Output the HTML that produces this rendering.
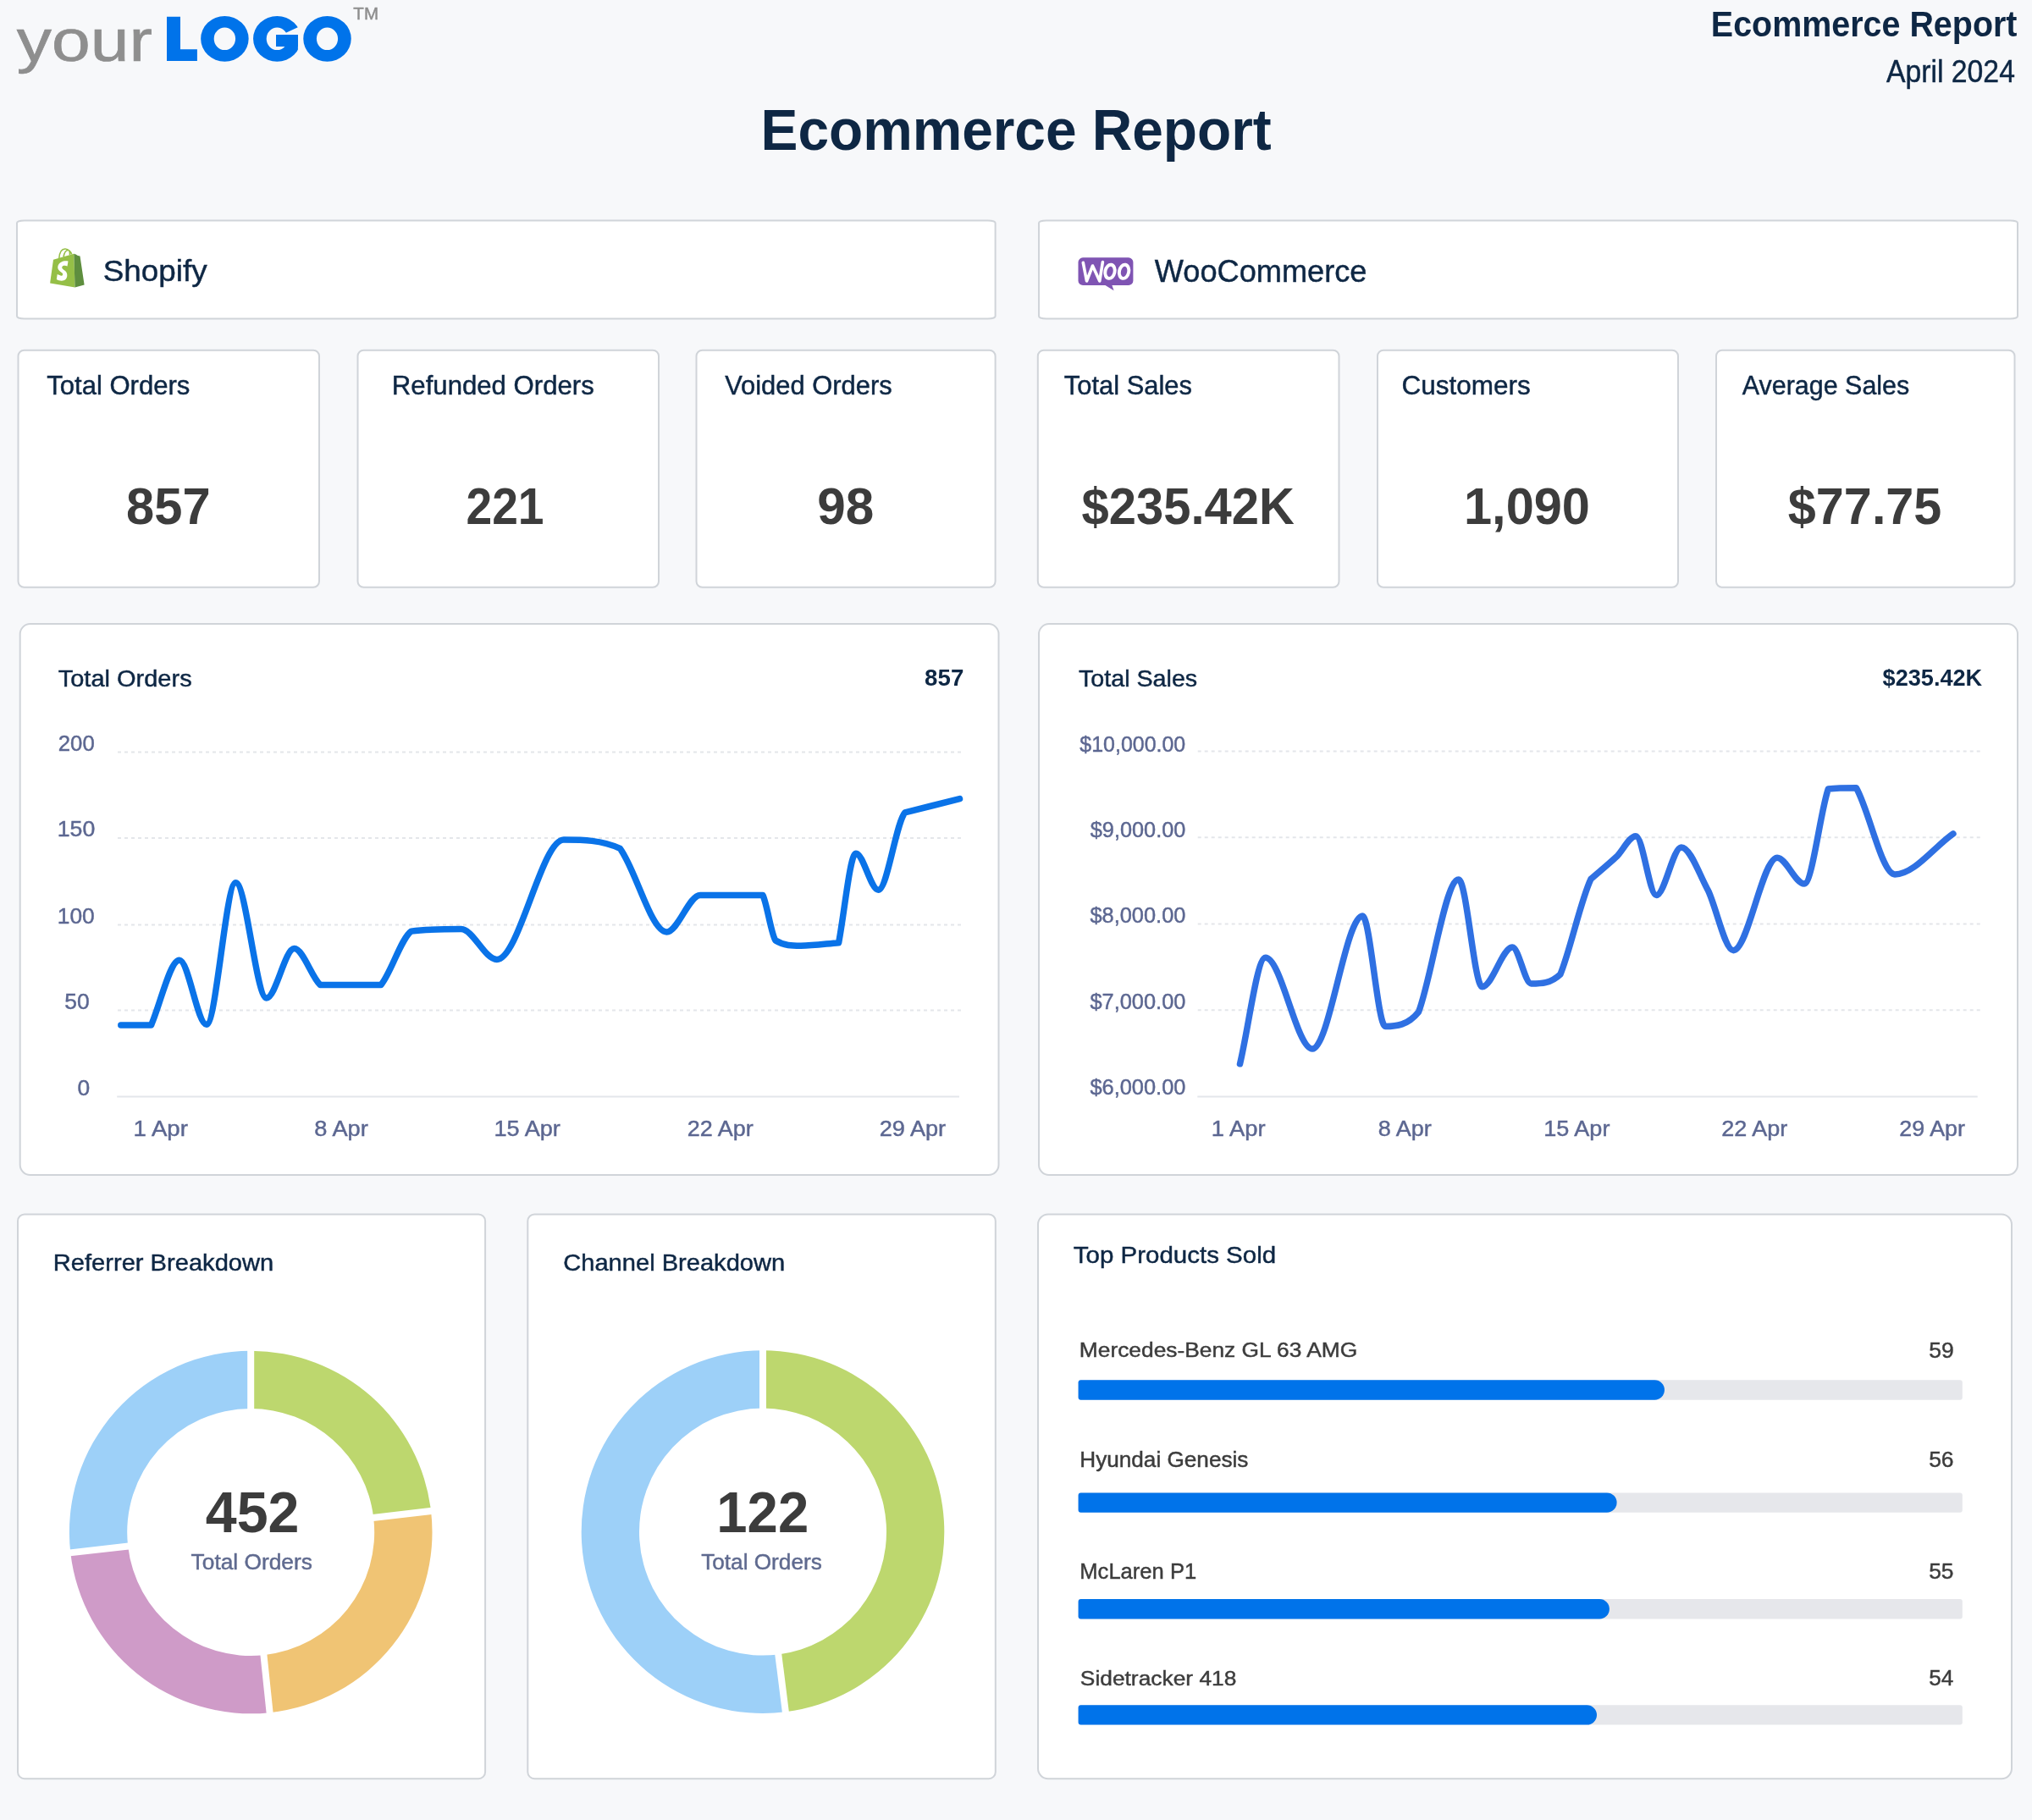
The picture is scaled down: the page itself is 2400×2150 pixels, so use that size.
<!DOCTYPE html>
<html><head><meta charset="utf-8"><title>Ecommerce Report</title>
<style>html,body{margin:0;padding:0;background:#f7f8fa;} svg{display:block;font-family:"Liberation Sans",sans-serif;will-change:transform;}</style>
</head><body>
<svg width="2400" height="2150" viewBox="0 0 2400 2150">
<rect x="0" y="0" width="2400" height="2150" fill="#f7f8fa"/>
<text transform="translate(19.79,71.70) scale(1.1762,1)" font-size="69.95" font-weight="normal" fill="#8e8e8e" stroke="#8e8e8e" stroke-width="0.7">your</text>
<path fill="#0073ea" d="M197,19.8 H213 V58.2 H232.9 V71.9 H197 Z"/>
<path fill="#0073ea" fill-rule="evenodd" d="M237.14999999999998,45.8 a28.25,26.9 0 1,0 56.5,0 a28.25,26.9 0 1,0 -56.5,0 Z M252.7,45.8 a12.7,13.3 0 1,0 25.4,0 a12.7,13.3 0 1,0 -25.4,0 Z"/>
<clipPath id="gclip"><path d="M290,10 H362 V27.5 L337.2,39 L333,41 H351.9 V80 H290 Z"/></clipPath>
<path fill="#0073ea" fill-rule="evenodd" clip-path="url(#gclip)" d="M299.05,45.8 a28.25,26.9 0 1,0 56.5,0 a28.25,26.9 0 1,0 -56.5,0 Z M314.7,45.8 a12.6,13.3 0 1,0 25.2,0 a12.6,13.3 0 1,0 -25.2,0 Z"/>
<rect x="326" y="41" width="25.9" height="14" fill="#0073ea"/>
<path fill="#0073ea" fill-rule="evenodd" d="M358.25,45.8 a28.25,26.9 0 1,0 56.5,0 a28.25,26.9 0 1,0 -56.5,0 Z M373.9,45.8 a12.6,13.3 0 1,0 25.2,0 a12.6,13.3 0 1,0 -25.2,0 Z"/>
<text transform="translate(417.34,23.00) scale(1.0097,1)" font-size="20.36" font-weight="normal" fill="#8e8e8e" stroke="#8e8e8e" stroke-width="0.45">TM</text>
<text transform="translate(2020.84,43.00) scale(0.9350,1)" font-size="42.18" font-weight="bold" fill="#0e2744">Ecommerce Report</text>
<text transform="translate(2227.92,97.00) scale(0.9285,1)" font-size="36.36" font-weight="normal" fill="#0e2744" stroke="#0e2744" stroke-width="0.45">April 2024</text>
<text transform="translate(898.56,176.50) scale(0.9522,1)" font-size="69.09" font-weight="bold" fill="#0e2744">Ecommerce Report</text>
<rect x="20.0" y="260.4" width="1155.6" height="116.1" rx="9" ry="3" fill="#fff" stroke="#d0d4d9" stroke-width="2"/>
<rect x="1227.0" y="260.4" width="1156.0" height="116.1" rx="9" ry="3" fill="#fff" stroke="#d0d4d9" stroke-width="2"/>
<text transform="translate(121.74,332.40) scale(1.0272,1)" font-size="35.86" font-weight="normal" fill="#0e2744" stroke="#0e2744" stroke-width="0.45">Shopify</text>
<text transform="translate(1363.82,332.80) scale(0.9784,1)" font-size="36.99" font-weight="normal" fill="#0e2744" stroke="#0e2744" stroke-width="0.45">WooCommerce</text>
<path fill="#95bf47" d="M63,306.8 L87.3,299.8 L88.5,339.6 L59.1,334.6 Z"/>
<path fill="#5e8e3e" d="M87.3,299.8 L89.5,300.5 L92,302 L94.5,302.5 L99.6,336.4 L88.5,339.6 Z"/>
<path fill="none" stroke="#95bf47" stroke-width="1.6" d="M69.8,305 C70.5,296 74,294 77,294 C81,294 84,298 84.8,300.5 M75,303.5 C76,298 78.5,295.5 80.5,295.5 C82,295.5 82.5,298 82.5,301"/>
<path fill="#fff" d="M80.5,308.5 C76,307.5 70,309 68.5,314 C67,319 72,321 73.5,322.5 C75,324 74,326.5 71.5,325.5 L67.7,324 L66.8,330 C70,332 75,332.5 77.5,330 C80,327.5 80,322.5 77,320 C74.5,318 72.5,317 73.5,315 C74.5,313 78,314 79.5,314.5 Z"/>
<rect x="1273.5" y="304.3" width="64.9" height="32.6" rx="5.5" fill="#7f54b3"/>
<path fill="#7f54b3" d="M1304.6,336.5 L1315.6,343.2 L1313.2,336.5 Z"/>
<path fill="none" stroke="#fff" stroke-width="3.6" stroke-linecap="round" stroke-linejoin="round" d="M1279.3,310.3 L1283.5,332 L1290.5,314 L1298.8,332 L1302.4,309.5"/>
<ellipse cx="1311" cy="320.8" rx="5.6" ry="8.2" transform="rotate(12 1311 320.8)" fill="none" stroke="#fff" stroke-width="3.9"/>
<ellipse cx="1327.6" cy="320.8" rx="5.6" ry="8.2" transform="rotate(12 1327.6 320.8)" fill="none" stroke="#fff" stroke-width="3.9"/>
<rect x="21.5" y="413.7" width="355.5" height="280.1" rx="7" ry="7" fill="#fff" stroke="#d0d4d9" stroke-width="2"/>
<rect x="422.5" y="413.7" width="355.5" height="280.1" rx="7" ry="7" fill="#fff" stroke="#d0d4d9" stroke-width="2"/>
<rect x="822.5" y="413.7" width="353.1" height="280.1" rx="7" ry="7" fill="#fff" stroke="#d0d4d9" stroke-width="2"/>
<rect x="1225.8" y="413.7" width="355.7" height="280.1" rx="7" ry="7" fill="#fff" stroke="#d0d4d9" stroke-width="2"/>
<rect x="1627.0" y="413.7" width="355.0" height="280.1" rx="7" ry="7" fill="#fff" stroke="#d0d4d9" stroke-width="2"/>
<rect x="2027.0" y="413.7" width="352.5" height="280.1" rx="7" ry="7" fill="#fff" stroke="#d0d4d9" stroke-width="2"/>
<text transform="translate(55.20,466.20) scale(1.0195,1)" font-size="30.48" font-weight="normal" fill="#0e2744" stroke="#0e2744" stroke-width="0.45">Total Orders</text>
<text transform="translate(462.83,466.20) scale(1.0225,1)" font-size="30.48" font-weight="normal" fill="#0e2744" stroke="#0e2744" stroke-width="0.45">Refunded Orders</text>
<text transform="translate(856.15,466.20) scale(1.0148,1)" font-size="30.48" font-weight="normal" fill="#0e2744" stroke="#0e2744" stroke-width="0.45">Voided Orders</text>
<text transform="translate(1256.80,466.20) scale(1.0144,1)" font-size="30.48" font-weight="normal" fill="#0e2744" stroke="#0e2744" stroke-width="0.45">Total Sales</text>
<text transform="translate(1655.42,466.20) scale(0.9947,1)" font-size="31.68" font-weight="normal" fill="#0e2744" stroke="#0e2744" stroke-width="0.45">Customers</text>
<text transform="translate(2057.82,466.20) scale(0.9993,1)" font-size="30.48" font-weight="normal" fill="#0e2744" stroke="#0e2744" stroke-width="0.45">Average Sales</text>
<text transform="translate(149.06,619.25) scale(0.9835,1)" font-size="60.72" font-weight="bold" fill="#3c3c3c">857</text>
<text transform="translate(550.47,619.25) scale(0.9092,1)" font-size="60.72" font-weight="bold" fill="#3c3c3c">221</text>
<text transform="translate(965.19,619.25) scale(0.9929,1)" font-size="60.72" font-weight="bold" fill="#3c3c3c">98</text>
<text transform="translate(1277.58,619.25) scale(0.9542,1)" font-size="60.72" font-weight="bold" fill="#3c3c3c">$235.42K</text>
<text transform="translate(1728.98,619.25) scale(0.9806,1)" font-size="60.72" font-weight="bold" fill="#3c3c3c">1,090</text>
<text transform="translate(2111.86,619.25) scale(0.9776,1)" font-size="60.72" font-weight="bold" fill="#3c3c3c">$77.75</text>
<rect x="23.7" y="737.1" width="1155.8" height="650.9" rx="12" ry="12" fill="#fff" stroke="#d0d4d9" stroke-width="2"/>
<rect x="1227.0" y="737.1" width="1156.0" height="650.9" rx="12" ry="12" fill="#fff" stroke="#d0d4d9" stroke-width="2"/>
<text transform="translate(68.75,810.80) scale(1.0618,1)" font-size="27.31" font-weight="normal" fill="#0e2744" stroke="#0e2744" stroke-width="0.45">Total Orders</text>
<text transform="translate(1092.10,810.20) scale(1.0008,1)" font-size="27.67" font-weight="bold" fill="#0e2744">857</text>
<text transform="translate(1273.95,810.60) scale(1.0611,1)" font-size="27.03" font-weight="normal" fill="#0e2744" stroke="#0e2744" stroke-width="0.45">Total Sales</text>
<text transform="translate(2223.56,810.00) scale(0.9757,1)" font-size="27.81" font-weight="bold" fill="#0e2744">$235.42K</text>
<line x1="139" y1="888.4" x2="1137" y2="888.4" stroke="#e4e6ea" stroke-width="2" stroke-dasharray="4,4"/>
<line x1="139" y1="990.1" x2="1137" y2="990.1" stroke="#e4e6ea" stroke-width="2" stroke-dasharray="4,4"/>
<line x1="139" y1="1092.4" x2="1137" y2="1092.4" stroke="#e4e6ea" stroke-width="2" stroke-dasharray="4,4"/>
<line x1="139" y1="1193.5" x2="1137" y2="1193.5" stroke="#e4e6ea" stroke-width="2" stroke-dasharray="4,4"/>
<line x1="138.2" y1="1295.5" x2="1133" y2="1295.5" stroke="#e3e6eb" stroke-width="2"/>
<text transform="translate(68.82,886.60) scale(1.0069,1)" font-size="25.52" font-weight="normal" fill="#5c6791" stroke="#5c6791" stroke-width="0.45">200</text>
<text transform="translate(67.70,988.30) scale(1.0458,1)" font-size="25.52" font-weight="normal" fill="#5c6791" stroke="#5c6791" stroke-width="0.45">150</text>
<text transform="translate(67.72,1090.60) scale(1.0332,1)" font-size="25.52" font-weight="normal" fill="#5c6791" stroke="#5c6791" stroke-width="0.45">100</text>
<text transform="translate(76.34,1191.70) scale(1.0361,1)" font-size="25.52" font-weight="normal" fill="#5c6791" stroke="#5c6791" stroke-width="0.45">50</text>
<text transform="translate(91.54,1293.60) scale(1.0340,1)" font-size="25.52" font-weight="normal" fill="#5c6791" stroke="#5c6791" stroke-width="0.45">0</text>
<text transform="translate(157.43,1341.70) scale(1.0727,1)" font-size="25.75" font-weight="normal" fill="#5c6791" stroke="#5c6791" stroke-width="0.45">1 Apr</text>
<text transform="translate(371.24,1341.70) scale(1.0574,1)" font-size="25.75" font-weight="normal" fill="#5c6791" stroke="#5c6791" stroke-width="0.45">8 Apr</text>
<text transform="translate(583.47,1341.70) scale(1.0529,1)" font-size="25.75" font-weight="normal" fill="#5c6791" stroke="#5c6791" stroke-width="0.45">15 Apr</text>
<text transform="translate(811.85,1341.70) scale(1.0463,1)" font-size="25.75" font-weight="normal" fill="#5c6791" stroke="#5c6791" stroke-width="0.45">22 Apr</text>
<text transform="translate(1038.64,1341.70) scale(1.0546,1)" font-size="25.75" font-weight="normal" fill="#5c6791" stroke="#5c6791" stroke-width="0.45">29 Apr</text>
<path d="M142.8,1210.9 C154.7,1210.9 166.7,1210.9 178.6,1210.9 C189.7,1185.3 200.8,1134.2 211.9,1134.2 C222.6,1134.2 233.2,1210.2 243.9,1210.2 C255.4,1210.2 266.9,1042.8 278.4,1042.8 C290.5,1042.8 302.7,1178.9 314.8,1178.9 C325.7,1178.9 336.6,1120.6 347.5,1120.6 C357.7,1120.6 368.0,1154.3 378.2,1163.6 C402.1,1163.6 426.0,1163.6 449.9,1163.6 C461.8,1149.5 473.8,1108.4 485.7,1100.1 C505.3,1097.6 525.0,1097.6 544.6,1097.6 C558.7,1097.6 572.7,1133.4 586.8,1133.4 C613.1,1133.4 639.5,992.1 665.8,992.1 C688.0,992.1 710.2,992.1 732.4,1002.4 C750.7,1027.0 769.1,1100.9 787.4,1100.9 C800.6,1100.9 813.8,1057.4 827.0,1057.4 C851.7,1057.4 876.3,1057.4 901.0,1057.6 C906.0,1068.0 911.0,1104.3 916.0,1111.0 C925.9,1117.2 935.9,1117.2 945.8,1117.2 C960.7,1117.2 975.7,1114.9 990.6,1113.7 C997.3,1078.5 1004.1,1008.2 1010.8,1008.2 C1019.7,1008.2 1028.5,1051.2 1037.4,1051.2 C1047.9,1051.2 1058.3,971.6 1068.8,959.9 C1090.4,954.5 1111.9,949.0 1133.5,943.6" fill="none" stroke="#0a73e8" stroke-width="7.5" stroke-linecap="round" stroke-linejoin="round"/>
<line x1="1414.7" y1="887.5" x2="2342.6" y2="887.5" stroke="#e4e6ea" stroke-width="2" stroke-dasharray="4,4"/>
<line x1="1414.7" y1="989.3" x2="2342.6" y2="989.3" stroke="#e4e6ea" stroke-width="2" stroke-dasharray="4,4"/>
<line x1="1414.7" y1="1091.4" x2="2342.6" y2="1091.4" stroke="#e4e6ea" stroke-width="2" stroke-dasharray="4,4"/>
<line x1="1414.7" y1="1193.3" x2="2342.6" y2="1193.3" stroke="#e4e6ea" stroke-width="2" stroke-dasharray="4,4"/>
<line x1="1414.3" y1="1295.5" x2="2335.7" y2="1295.5" stroke="#e3e6eb" stroke-width="2"/>
<text transform="translate(1275.35,888.20) scale(0.9677,1)" font-size="25.81" font-weight="normal" fill="#5c6791" stroke="#5c6791" stroke-width="0.45">$10,000.00</text>
<text transform="translate(1287.75,988.90) scale(0.9811,1)" font-size="25.81" font-weight="normal" fill="#5c6791" stroke="#5c6791" stroke-width="0.45">$9,000.00</text>
<text transform="translate(1287.45,1090.00) scale(0.9837,1)" font-size="25.81" font-weight="normal" fill="#5c6791" stroke="#5c6791" stroke-width="0.45">$8,000.00</text>
<text transform="translate(1287.45,1191.80) scale(0.9837,1)" font-size="25.81" font-weight="normal" fill="#5c6791" stroke="#5c6791" stroke-width="0.45">$7,000.00</text>
<text transform="translate(1287.45,1293.40) scale(0.9837,1)" font-size="25.81" font-weight="normal" fill="#5c6791" stroke="#5c6791" stroke-width="0.45">$6,000.00</text>
<text transform="translate(1430.65,1342.00) scale(1.0640,1)" font-size="25.75" font-weight="normal" fill="#5c6791" stroke="#5c6791" stroke-width="0.45">1 Apr</text>
<text transform="translate(1627.65,1342.00) scale(1.0506,1)" font-size="25.75" font-weight="normal" fill="#5c6791" stroke="#5c6791" stroke-width="0.45">8 Apr</text>
<text transform="translate(1823.17,1342.00) scale(1.0515,1)" font-size="25.75" font-weight="normal" fill="#5c6791" stroke="#5c6791" stroke-width="0.45">15 Apr</text>
<text transform="translate(2033.15,1342.00) scale(1.0491,1)" font-size="25.75" font-weight="normal" fill="#5c6791" stroke="#5c6791" stroke-width="0.45">22 Apr</text>
<text transform="translate(2243.36,1342.00) scale(1.0422,1)" font-size="25.75" font-weight="normal" fill="#5c6791" stroke="#5c6791" stroke-width="0.45">29 Apr</text>
<path d="M1464.5,1256.8 C1474.6,1215.0 1484.6,1131.3 1494.7,1131.3 C1513.2,1131.3 1531.6,1239.1 1550.1,1239.1 C1569.8,1239.1 1589.5,1082.1 1609.2,1082.1 C1618.2,1082.1 1627.2,1212.5 1636.2,1212.5 C1649.3,1212.5 1662.5,1211.3 1675.6,1195.3 C1691.3,1153.5 1707.1,1039.0 1722.8,1039.0 C1732.1,1039.0 1741.3,1165.7 1750.6,1165.7 C1762.5,1165.7 1774.4,1119.0 1786.3,1119.0 C1793.7,1119.0 1801.1,1162.0 1808.5,1162.0 C1820.0,1162.0 1831.4,1162.0 1842.9,1151.0 C1854.9,1121.7 1867.0,1063.6 1879.0,1038.4 C1889.1,1029.6 1899.2,1021.3 1909.3,1012.1 C1916.9,1004.4 1924.5,987.7 1932.1,987.7 C1940.2,987.7 1948.2,1057.5 1956.3,1057.5 C1966.1,1057.5 1976.0,1000.9 1985.8,1000.9 C1996.5,1000.9 2007.1,1033.4 2017.8,1052.6 C2027.6,1074.0 2037.5,1122.7 2047.3,1122.7 C2064.5,1122.7 2081.8,1013.2 2099.0,1013.2 C2109.7,1013.2 2120.3,1044.0 2131.0,1044.0 C2140.4,1044.0 2149.9,959.3 2159.3,932.0 C2170.4,930.8 2181.4,930.8 2192.5,930.8 C2207.7,957.5 2222.8,1032.9 2238.0,1032.9 C2261.0,1032.9 2283.9,1000.9 2306.9,984.9" fill="none" stroke="#2f70e2" stroke-width="7.5" stroke-linecap="round" stroke-linejoin="round"/>
<rect x="21.0" y="1434.4" width="552.1" height="666.8" rx="8" ry="8" fill="#fff" stroke="#d0d4d9" stroke-width="2"/>
<rect x="623.3" y="1434.4" width="552.5" height="666.8" rx="8" ry="8" fill="#fff" stroke="#d0d4d9" stroke-width="2"/>
<rect x="1226.0" y="1434.5" width="1150.0" height="666.7" rx="12" ry="12" fill="#fff" stroke="#d0d4d9" stroke-width="2"/>
<text transform="translate(62.80,1500.90) scale(1.0657,1)" font-size="27.31" font-weight="normal" fill="#0e2744" stroke="#0e2744" stroke-width="0.45">Referrer Breakdown</text>
<text transform="translate(665.25,1501.00) scale(1.0546,1)" font-size="27.59" font-weight="normal" fill="#0e2744" stroke="#0e2744" stroke-width="0.45">Channel Breakdown</text>
<text transform="translate(1267.84,1491.80) scale(1.0857,1)" font-size="27.17" font-weight="normal" fill="#0e2744" stroke="#0e2744" stroke-width="0.45">Top Products Sold</text>
<path fill="#bdd76e" d="M296.20,1595.70 A214.3,214.3 0 0,1 509.04,1785.00 L441.20,1792.97 A146,146 0 0,0 296.20,1664.00 Z"/>
<path fill="#f0c474" d="M509.04,1785.00 A214.3,214.3 0 0,1 318.60,2023.13 L311.46,1955.20 A146,146 0 0,0 441.20,1792.97 Z"/>
<path fill="#cf9bc8" d="M318.60,2023.13 A214.3,214.3 0 0,1 83.28,1834.26 L151.14,1826.53 A146,146 0 0,0 311.46,1955.20 Z"/>
<path fill="#9dd0f8" d="M83.28,1834.26 A214.3,214.3 0 0,1 296.20,1595.70 L296.20,1664.00 A146,146 0 0,0 151.14,1826.53 Z"/>
<line x1="296.20" y1="1667.00" x2="296.20" y2="1592.70" stroke="#fff" stroke-width="8"/>
<line x1="438.22" y1="1793.32" x2="512.02" y2="1784.65" stroke="#fff" stroke-width="8"/>
<line x1="311.15" y1="1952.22" x2="318.91" y2="2026.11" stroke="#fff" stroke-width="8"/>
<line x1="154.12" y1="1826.19" x2="80.30" y2="1834.60" stroke="#fff" stroke-width="8"/>
<path fill="#bdd76e" d="M901.00,1595.30 A214.3,214.3 0 0,1 927.86,2022.21 L919.30,1954.45 A146,146 0 0,0 901.00,1663.60 Z"/>
<path fill="#9dd0f8" d="M927.86,2022.21 A214.3,214.3 0 1,1 901.00,1595.30 L901.00,1663.60 A146,146 0 1,0 919.30,1954.45 Z"/>
<line x1="901.00" y1="1666.60" x2="901.00" y2="1592.30" stroke="#fff" stroke-width="8"/>
<line x1="918.92" y1="1951.47" x2="928.23" y2="2025.19" stroke="#fff" stroke-width="8"/>
<text transform="translate(242.81,1810.00) scale(0.9598,1)" font-size="69.09" font-weight="bold" fill="#3c3c3c">452</text>
<text transform="translate(225.61,1853.50) scale(1.0310,1)" font-size="25.52" font-weight="normal" fill="#5f6a8f" stroke="#5f6a8f" stroke-width="0.45">Total Orders</text>
<text transform="translate(846.32,1810.00) scale(0.9446,1)" font-size="69.09" font-weight="bold" fill="#3c3c3c">122</text>
<text transform="translate(828.21,1853.50) scale(1.0259,1)" font-size="25.52" font-weight="normal" fill="#5f6a8f" stroke="#5f6a8f" stroke-width="0.45">Total Orders</text>
<text transform="translate(1274.83,1602.90) scale(1.1044,1)" font-size="23.86" font-weight="normal" fill="#3c3c3c" stroke="#3c3c3c" stroke-width="0.45">Mercedes-Benz GL 63 AMG</text>
<text transform="translate(2278.14,1603.60) scale(0.9969,1)" font-size="26.62" font-weight="normal" fill="#3c3c3c" stroke="#3c3c3c" stroke-width="0.45">59</text>
<rect x="1273.6" y="1630.3" width="1044.2" height="23.4" rx="3" fill="#e6e7eb"/>
<path fill="#0073ea" d="M1276.6,1630.3 H1954.3 A11.7,11.7 0 0,1 1954.3,1653.7 H1276.6 A3,3 0 0,1 1273.6,1650.7 V1633.3 A3,3 0 0,1 1276.6,1630.3 Z"/>
<text transform="translate(1275.24,1733.20) scale(1.0311,1)" font-size="25.38" font-weight="normal" fill="#3c3c3c" stroke="#3c3c3c" stroke-width="0.45">Hyundai Genesis</text>
<text transform="translate(2278.14,1733.00) scale(1.0341,1)" font-size="25.60" font-weight="normal" fill="#3c3c3c" stroke="#3c3c3c" stroke-width="0.45">56</text>
<rect x="1273.6" y="1763.4" width="1044.2" height="23.4" rx="3" fill="#e6e7eb"/>
<path fill="#0073ea" d="M1276.6,1763.4 H1897.9 A11.7,11.7 0 0,1 1897.9,1786.8 H1276.6 A3,3 0 0,1 1273.6,1783.8 V1766.4 A3,3 0 0,1 1276.6,1763.4 Z"/>
<text transform="translate(1275.29,1865.10) scale(0.9939,1)" font-size="25.75" font-weight="normal" fill="#3c3c3c" stroke="#3c3c3c" stroke-width="0.45">McLaren P1</text>
<text transform="translate(2278.14,1865.40) scale(1.0200,1)" font-size="25.89" font-weight="normal" fill="#3c3c3c" stroke="#3c3c3c" stroke-width="0.45">55</text>
<rect x="1273.6" y="1889" width="1044.2" height="23.4" rx="3" fill="#e6e7eb"/>
<path fill="#0073ea" d="M1276.6,1889 H1889.2 A11.7,11.7 0 0,1 1889.2,1912.4 H1276.6 A3,3 0 0,1 1273.6,1909.4 V1892.0 A3,3 0 0,1 1276.6,1889 Z"/>
<text transform="translate(1275.81,1991.00) scale(1.0618,1)" font-size="24.83" font-weight="normal" fill="#3c3c3c" stroke="#3c3c3c" stroke-width="0.45">Sidetracker 418</text>
<text transform="translate(2278.16,1991.30) scale(1.0134,1)" font-size="25.75" font-weight="normal" fill="#3c3c3c" stroke="#3c3c3c" stroke-width="0.45">54</text>
<rect x="1273.6" y="2014.2" width="1044.2" height="23.4" rx="3" fill="#e6e7eb"/>
<path fill="#0073ea" d="M1276.6,2014.2 H1874.3 A11.7,11.7 0 0,1 1874.3,2037.6 H1276.6 A3,3 0 0,1 1273.6,2034.6 V2017.2 A3,3 0 0,1 1276.6,2014.2 Z"/>
</svg>
</body></html>
